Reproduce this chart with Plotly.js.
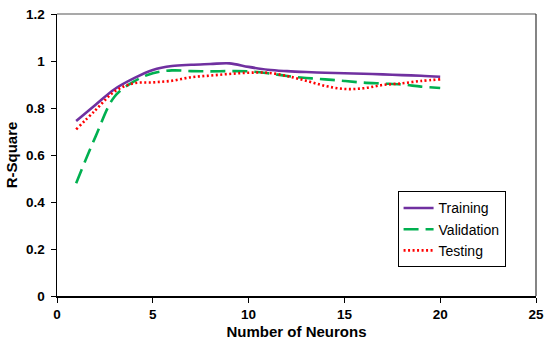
<!DOCTYPE html>
<html>
<head>
<meta charset="utf-8">
<script src="https://cdn.plot.ly/plotly-3.0.1.min.js"></script>
<style>html,body{margin:0;padding:0;background:#fff;}#chart{width:550px;height:348px;}</style>
</head>
<body>
<div id="chart"></div>
<script>
var neurons = [1,2,3,4,5,6,7,8,9,10,11,12,13,14,15,16,17,18,19,20];
var training = [0.745,0.813,0.88,0.926,0.962,0.979,0.984,0.987,0.99,0.975,0.963,0.957,0.953,0.95,0.948,0.946,0.943,0.94,0.937,0.933];
var validation = [0.48,0.676,0.848,0.912,0.948,0.96,0.957,0.956,0.957,0.956,0.948,0.936,0.928,0.922,0.915,0.908,0.904,0.9,0.891,0.885];
var testing = [0.709,0.79,0.87,0.905,0.909,0.916,0.931,0.938,0.945,0.95,0.95,0.936,0.916,0.894,0.881,0.884,0.898,0.905,0.915,0.922];
var seriesNames = ['Training','Validation','Testing'];
var xTickVals = [0,5,10,15,20,25];
var xTickText = ['0','5','10','15','20','25'];
var yTickVals = [0,0.2,0.4,0.6,0.8,1,1.2];
var yTickText = ['0','0.2','0.4','0.6','0.8','1','1.2'];

function bold(arr) { return arr.map(function (t) { return '<b>' + t + '</b>'; }); }

var traces = [
  {x: neurons, y: training, name: seriesNames[0], mode: 'lines',
   line: {color: '#7030A0', width: 2.6, shape: 'spline'}},
  {x: neurons, y: validation, name: seriesNames[1], mode: 'lines',
   line: {color: '#00B050', width: 2.6, shape: 'spline', dash: '15px,7px'}},
  {x: neurons, y: testing, name: seriesNames[2], mode: 'lines',
   line: {color: '#FF0000', width: 2.6, shape: 'spline', dash: '2px,2.5px'}}
];

var tf = {size: 13.5, family: 'Liberation Sans, Arial, sans-serif', color: '#000'};

var layout = {
  width: 550, height: 348,
  margin: {l: 57, r: 14, t: 14, b: 52},
  paper_bgcolor: '#fff', plot_bgcolor: '#fff',
  font: {family: 'Liberation Sans, Arial, sans-serif', color: '#000'},
  showlegend: true,
  legend: {x: 0.711, y: 0.371, xanchor: 'left', yanchor: 'top',
    bordercolor: '#000', borderwidth: 1, bgcolor: '#fff',
    font: {size: 14, family: 'Liberation Sans, Arial, sans-serif'}},
  xaxis: {range: [0, 25], tickmode: 'array', tickvals: xTickVals, ticktext: bold(xTickText),
    ticks: 'outside', ticklen: 5,
    tickcolor: '#000', showgrid: false, zeroline: false, showline: true, linecolor: '#000', linewidth: 1.5,
    tickfont: tf,
    title: {text: '<b>Number of Neurons</b>', font: {size: 15}, standoff: 6}},
  yaxis: {range: [0, 1.2], tickmode: 'array', tickvals: yTickVals, ticktext: bold(yTickText),
    ticks: 'outside', ticklen: 5, ticklabelstandoff: 3,
    tickcolor: '#000', showgrid: false, zeroline: false, showline: true, linecolor: '#000', linewidth: 1.5,
    tickfont: tf,
    title: {text: '<b>R-Square</b>', font: {size: 15}, standoff: 5}},
  shapes: [
    {type: 'line', xref: 'paper', yref: 'paper', x0: 0, x1: 1, y0: 1, y1: 1, line: {color: '#555', width: 1.2}},
    {type: 'line', xref: 'paper', yref: 'paper', x0: 1, x1: 1, y0: 0, y1: 1, line: {color: '#333', width: 1.2}}
  ]
};

Plotly.newPlot('chart', traces, layout, {displayModeBar: false, staticPlot: true});
</script>
</body>
</html>
